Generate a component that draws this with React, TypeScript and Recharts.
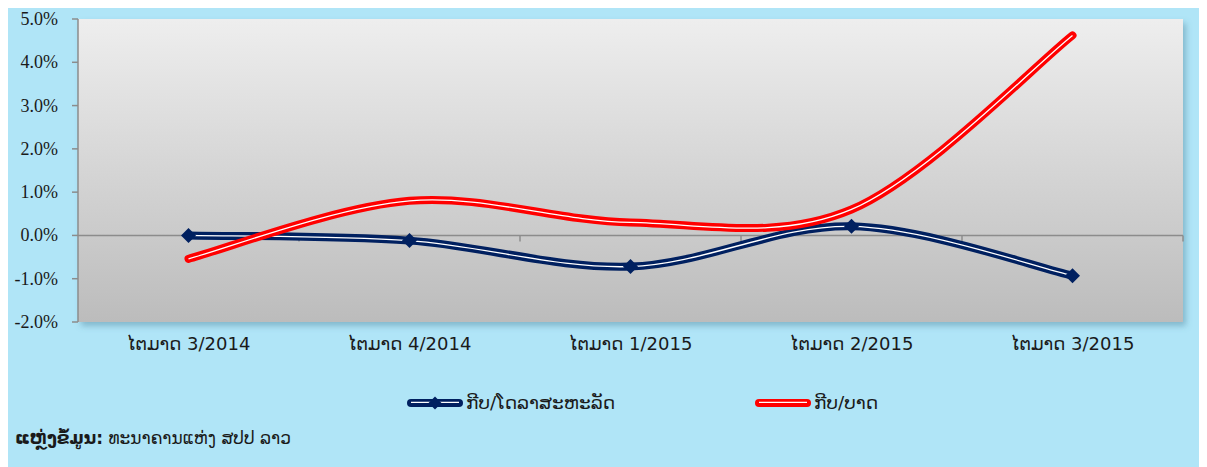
import React from "react";
import {
	LineChart,
	Line,
	XAxis,
	YAxis,
	ReferenceArea,
	ReferenceLine,
} from "recharts";

// Data (percent change per quarter)
const quarters: string[] = [
	"ໄຕມາດ 3/2014",
	"ໄຕມາດ 4/2014",
	"ໄຕມາດ 1/2015",
	"ໄຕມາດ 2/2015",
	"ໄຕມາດ 3/2015",
];
const kipUsd: number[] = [0.0, -0.12, -0.72, 0.21, -0.93];
const kipBaht: number[] = [-0.54, 0.8, 0.3, 0.6, 4.62];
const yTicks: number[] = [-2, -1, 0, 1, 2, 3, 4, 5];

const seriesNames = { usd: "ກີບ/ໂດລາສະຫະລັດ", baht: "ກີບ/ບາດ" };

const data = quarters.map((q, i) => ({ q, usd: kipUsd[i], baht: kipBaht[i] }));

const NAVY = "#002060";
const RED = "#ff0000";
const LAO_FONT = "'DejaVu Sans', 'Noto Sans', sans-serif";
const SERIF_FONT = "Liberation Serif, Times New Roman, Times, serif";
const CHART_W = 1196;
const PLOT_W = CHART_W - 73 - 18;
const HALF_BAND = PLOT_W / quarters.length / 2;

// Excel-like smoothed line (Catmull-Rom through the points)
const excelSmooth = (ctx: any) => {
	let pts: [number, number][] = [];
	return {
		areaStart() {},
		areaEnd() {},
		lineStart() {
			pts = [];
		},
		point(x: number, y: number) {
			pts.push([+x, +y]);
		},
		lineEnd() {
			if (!pts.length) return;
			ctx.moveTo(pts[0][0], pts[0][1]);
			for (let i = 0; i < pts.length - 1; i++) {
				const p0 = pts[Math.max(i - 1, 0)];
				const p1 = pts[i];
				const p2 = pts[i + 1];
				const p3 = pts[Math.min(i + 2, pts.length - 1)];
				ctx.bezierCurveTo(
					p1[0] + (p2[0] - p0[0]) / 6,
					p1[1] + (p2[1] - p0[1]) / 6,
					p2[0] - (p3[0] - p1[0]) / 6,
					p2[1] - (p3[1] - p1[1]) / 6,
					p2[0],
					p2[1]
				);
			}
		},
	};
};

const Diamond = (props: any) => {
	const { cx, cy } = props;
	if (cx == null || cy == null) return null;
	const r = 7.5;
	return (
		<polygon
			points={`${cx},${cy - r} ${cx + r},${cy} ${cx},${cy + r} ${cx - r},${cy}`}
			fill={NAVY}
		/>
	);
};

// zero line with the category boundary tick marks
const ZeroLine = (props: any) => {
	const { x1, x2, y1 } = props;
	const n = quarters.length;
	const step = (x2 - x1) / n;
	return (
		<g>
			<line x1={x1} x2={x2} y1={y1} y2={y1} stroke="#8c8c8c" strokeWidth={1.5} />
			{quarters.map((_, i) => (
				<line
					key={i}
					x1={x1 + step * (i + 1)}
					x2={x1 + step * (i + 1)}
					y1={y1}
					y2={y1 + 6}
					stroke="#8c8c8c"
					strokeWidth={1.5}
				/>
			))}
		</g>
	);
};

// plot background, widened over the half-band padding on both sides
const PlotBg = (props: any) => {
	const { x, y, width, height } = props;
	return (
		<rect
			x={x - HALF_BAND}
			y={y}
			width={width + HALF_BAND * 2}
			height={height}
			fill="url(#plotGrad)"
			filter="url(#plotShadow)"
		/>
	);
};

const YTick = (props: any) => {
	const { x, y, payload } = props;
	return (
		<text
			x={x}
			y={y}
			dy={6}
			textAnchor="end"
			fill="#1a1a1a"
			fontSize={18}
			style={{ fontFamily: SERIF_FONT }}
		>
			{`${Number(payload.value).toFixed(1)}%`}
		</text>
	);
};

const XTick = (props: any) => {
	const { x, y, payload } = props;
	return (
		<text
			x={x}
			y={y}
			dy={14}
			textAnchor="middle"
			fill="#1a1a1a"
			fontSize={18}
			style={{ fontFamily: LAO_FONT }}
		>
			{payload.value}
		</text>
	);
};

const LegendIcon = ({ color, marker }: { color: string; marker?: boolean }) => (
	<svg width={58} height={16} style={{ display: "block" }}>
		<line x1={5} x2={53} y1={8} y2={8} stroke={color} strokeWidth={8} strokeLinecap="round" />
		<line x1={5} x2={53} y1={7.3} y2={7.3} stroke="#fff" strokeWidth={1.3} />
		{marker && <polygon points="29,1.5 35.5,8 29,14.5 22.5,8" fill={NAVY} />}
	</svg>
);

const App: React.FC = () => {
	return (
		<div
			style={{
				position: "relative",
				marginLeft: -3,
				width: CHART_W,
				height: 459,
				background: "#b0e5f7",
			}}
		>
			<LineChart
				width={CHART_W}
				height={360}
				data={data}
				margin={{ top: 11, right: 18, bottom: 16, left: 0 }}
			>
				<defs>
					<linearGradient id="plotGrad" x1="0" y1="0" x2="0" y2="1">
						<stop offset="0%" stopColor="#eeeeee" />
						<stop offset="100%" stopColor="#bcbcbc" />
					</linearGradient>
					<filter id="plotShadow" x="-5%" y="-5%" width="110%" height="115%">
						<feDropShadow dx={3} dy={4} stdDeviation={3} floodColor="#4a7f95" floodOpacity={0.45} />
					</filter>
				</defs>
				<ReferenceArea y1={-2} y2={5} shape={PlotBg} ifOverflow="extendDomain" />
				<XAxis
					dataKey="q"
					height={30}
					padding={{ left: HALF_BAND, right: HALF_BAND }}
					axisLine={false}
					tickLine={false}
					tickMargin={8}
					interval={0}
					tick={<XTick />}
				/>
				<YAxis
					width={73}
					domain={[-2, 5]}
					ticks={yTicks}
					interval={0}
					axisLine={{ stroke: "#8c8c8c", strokeWidth: 1.5 }}
					tickLine={{ stroke: "#8c8c8c", strokeWidth: 1.5 }}
					tickSize={6}
					tickMargin={14}
					tick={<YTick />}
				/>
				<ReferenceLine y={0} shape={ZeroLine} />
				<Line
					dataKey="usd"
					type={excelSmooth as any}
					stroke={NAVY}
					strokeWidth={8}
					strokeLinecap="round"
					dot={false}
					activeDot={false}
					isAnimationActive={false}
				/>
				<Line
					dataKey="usd"
					type={excelSmooth as any}
					stroke="#ffffff"
					strokeWidth={1.3}
					dot={<Diamond />}
					activeDot={false}
					legendType="none"
					isAnimationActive={false}
				/>
				<Line
					dataKey="baht"
					type={excelSmooth as any}
					stroke={RED}
					strokeWidth={8}
					strokeLinecap="round"
					dot={false}
					activeDot={false}
					isAnimationActive={false}
				/>
				<Line
					dataKey="baht"
					type={excelSmooth as any}
					stroke="#ffffff"
					strokeWidth={1.3}
					dot={false}
					activeDot={false}
					legendType="none"
					isAnimationActive={false}
				/>
			</LineChart>
			<div
				style={{
					position: "absolute",
					left: 0,
					top: 384,
					width: CHART_W,
					height: 26,
					fontFamily: LAO_FONT,
					fontSize: 18.5,
					color: "#1a1a1a",
				}}
			>
				<div style={{ position: "absolute", left: 401, top: 0, display: "flex", alignItems: "center" }}>
					<LegendIcon color={NAVY} marker />
					<span style={{ marginLeft: 2 }}>{seriesNames.usd}</span>
				</div>
				<div style={{ position: "absolute", left: 749, top: 0, display: "flex", alignItems: "center" }}>
					<LegendIcon color={RED} />
					<span style={{ marginLeft: 2 }}>{seriesNames.baht}</span>
				</div>
			</div>
			<div
				style={{
					position: "absolute",
					left: 10,
					top: 420,
					fontFamily: LAO_FONT,
					fontSize: 17,
					color: "#1a1a1a",
				}}
			>
				<b>ແຫຼ່ງຂໍ້ມູນ:</b> ທະນາຄານແຫ່ງ ສປປ ລາວ
			</div>
		</div>
	);
};

export default App;
